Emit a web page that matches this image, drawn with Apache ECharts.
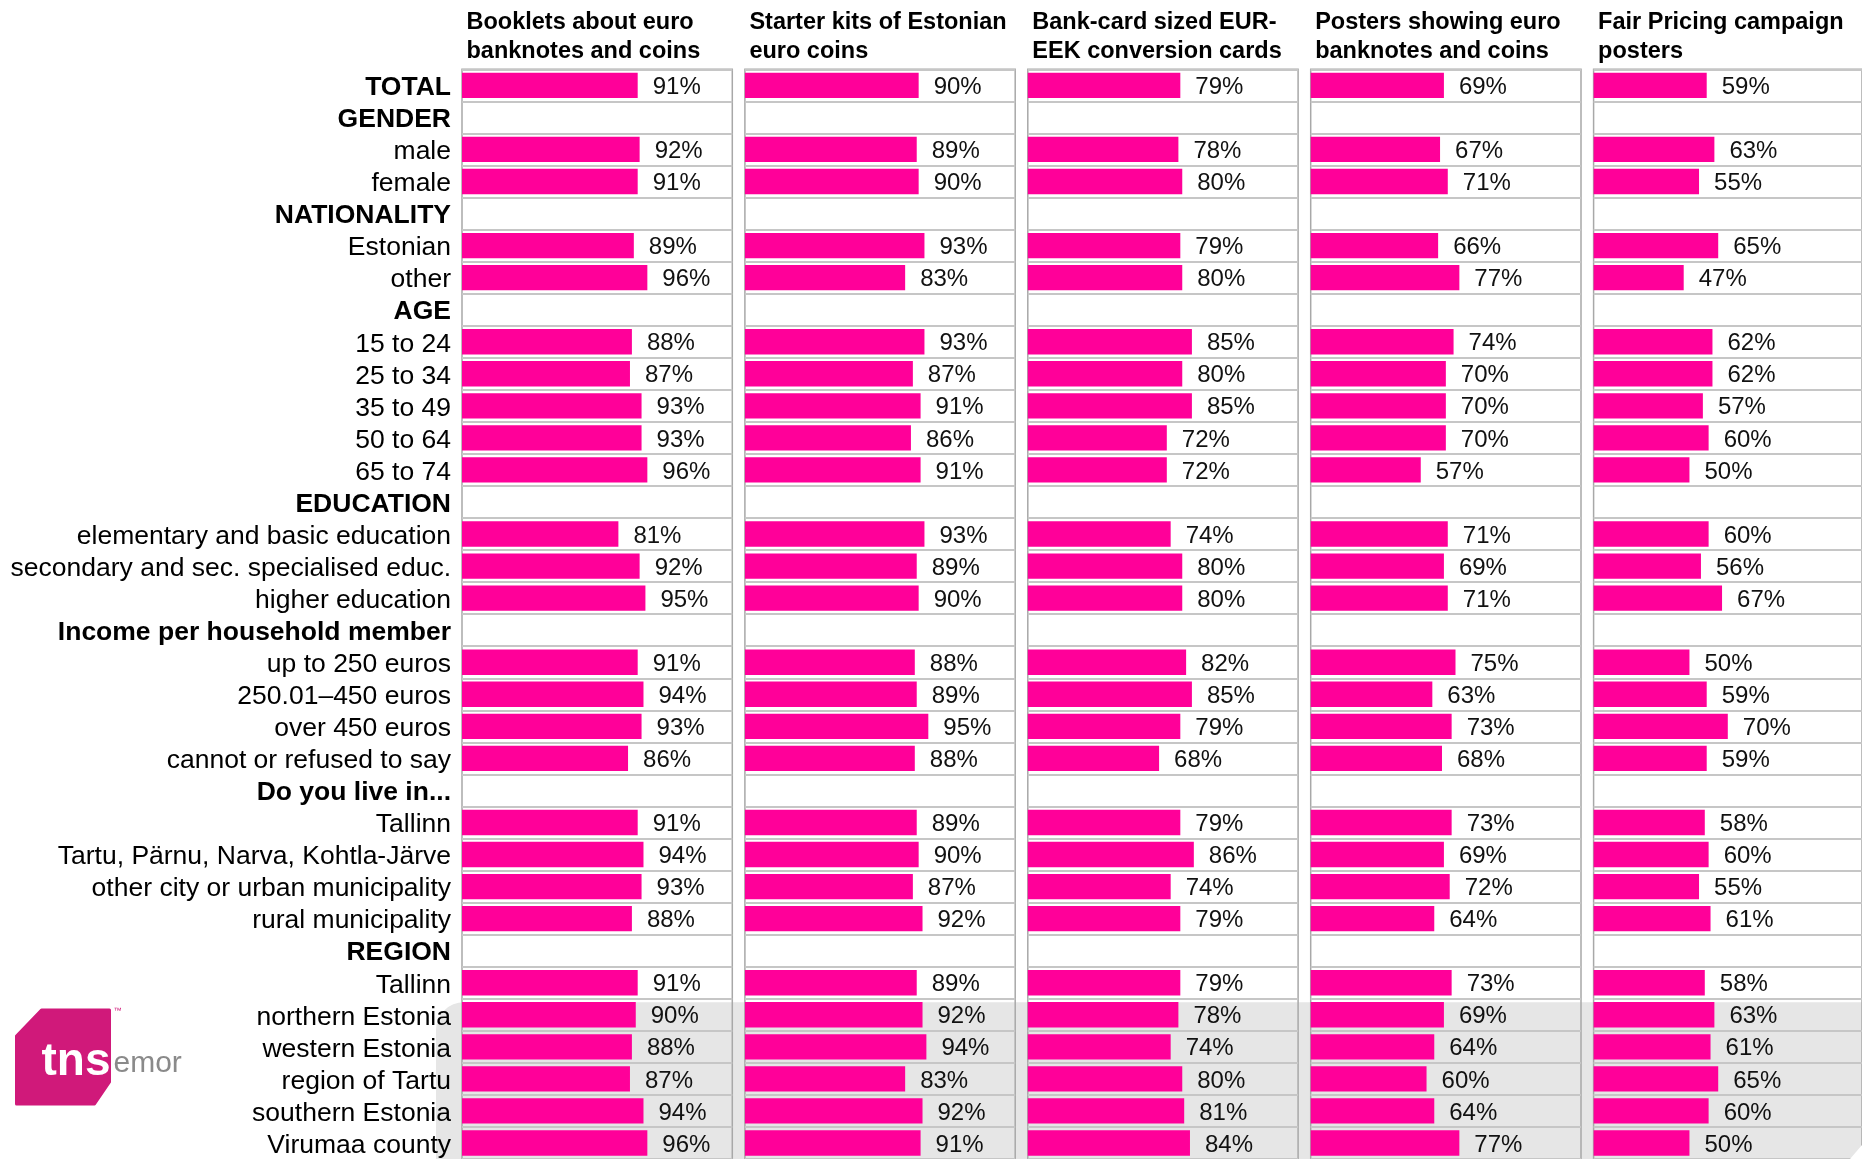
<!DOCTYPE html>
<html>
<head>
<meta charset="utf-8">
<script src="https://cdn.jsdelivr.net/npm/echarts@6/dist/echarts.min.js"></script>
<style>
  html, body { margin: 0; padding: 0; background: #fff; }
  #chart { width: 1862px; height: 1159px; }
</style>
</head>
<body>
<div id="chart"></div>
<script>
// row labels (top to bottom)
const rowLabels = [
    'TOTAL', 'GENDER', 'male', 'female', 'NATIONALITY', 'Estonian', 'other',
    'AGE', '15 to 24', '25 to 34', '35 to 49', '50 to 64', '65 to 74',
    'EDUCATION', 'elementary and basic education', 'secondary and sec. specialised educ.', 'higher education',
    'Income per household member', 'up to 250 euros', '250.01–450 euros', 'over 450 euros', 'cannot or refused to say',
    'Do you live in...', 'Tallinn', 'Tartu, Pärnu, Narva, Kohtla-Järve', 'other city or urban municipality', 'rural municipality',
    'REGION', 'Tallinn', 'northern Estonia', 'western Estonia', 'region of Tartu', 'southern Estonia', 'Virumaa county'
];
const headerRows = ['TOTAL', 'GENDER', 'NATIONALITY', 'AGE', 'EDUCATION', 'Income per household member', 'Do you live in...', 'REGION'];

const panelTitles = [
    'Booklets about euro\nbanknotes and coins',
    'Starter kits of Estonian\neuro coins',
    'Bank-card sized EUR-\nEEK conversion cards',
    'Posters showing euro\nbanknotes and coins',
    'Fair Pricing campaign\nposters'
];

// '-' = heading row, no bar
const booklets    = [91,'-',92,91,'-',89,96,'-',88,87,93,93,96,'-',81,92,95,'-',91,94,93,86,'-',91,94,93,88,'-',91,90,88,87,94,96];
const starterKits = [90,'-',89,90,'-',93,83,'-',93,87,91,86,91,'-',93,89,90,'-',88,89,95,88,'-',89,90,87,92,'-',89,92,94,83,92,91];
const bankCards   = [79,'-',78,80,'-',79,80,'-',85,80,85,72,72,'-',74,80,80,'-',82,85,79,68,'-',79,86,74,79,'-',79,78,74,80,81,84];
const posters     = [69,'-',67,71,'-',66,77,'-',74,70,70,70,57,'-',71,69,71,'-',75,63,73,68,'-',73,69,72,64,'-',73,69,64,60,64,77];
const fairPricing = [59,'-',63,55,'-',65,47,'-',62,62,57,60,50,'-',60,56,67,'-',50,59,70,59,'-',58,60,55,61,'-',58,63,61,65,60,50];

const panelData = [booklets, starterKits, bankCards, posters, fairPricing];
const shadedFrom = 29; // northern Estonia .. Virumaa county

const FONT = "'Liberation Sans', Arial, sans-serif";
const gridTop = 69.3;
const rowH = 32.17;
const gridLeft0 = 462;
const gridStep = 282.9;
const gridW = 270.3;

let chart = echarts.init(document.getElementById('chart'));

let grids = [], xAxes = [], yAxes = [], series = [], titles = [], graphics = [];

panelData.forEach(function(vals, i){
    let left = gridLeft0 + i * gridStep;
    grids.push({
        left: left, top: gridTop, width: gridW, height: rowH * rowLabels.length,
        show: true, borderColor: '#a8a8a8', borderWidth: 1.5, backgroundColor: 'transparent'
    });
    xAxes.push({
        type: 'value', gridIndex: i, min: 0, max: 140, show: false
    });
    yAxes.push({
        type: 'category', gridIndex: i, inverse: true, data: rowLabels,
        axisLine: { show: false },
        axisTick: { show: false },
        splitLine: { show: true, lineStyle: { color: '#c6c6c6', width: 2 } },
        axisLabel: {
            show: i === 0,
            interval: 0,
            margin: 11,
            padding: [5, 0, 0, 0],
            fontFamily: FONT,
            fontSize: 26.5,
            color: '#000',
            formatter: function(v){
                return headerRows.indexOf(v) >= 0 ? '{h|' + v + '}' : v;
            },
            rich: {
                h: { fontFamily: FONT, fontSize: 26.5, fontWeight: 'bold', color: '#000' }
            }
        }
    });
    series.push({
        type: 'bar', xAxisIndex: i, yAxisIndex: i,
        data: vals,
        barCategoryGap: '21%',
        itemStyle: { color: '#ff0099' },
        label: {
            show: true, position: 'right', distance: 15, offset: [0, 2],
            fontFamily: FONT, fontSize: 24, color: '#111',
            formatter: function(p){ return p.value + '%'; }
        },
        animation: false
    });
    titles.push({
        text: panelTitles[i],
        left: left - 0.5, top: 3,
        textStyle: { fontFamily: FONT, fontSize: 23.5, fontWeight: 'bold', color: '#000', lineHeight: 29 }
    });
});

// grey band behind the region rows
let shadeTop = gridTop + shadedFrom * rowH;
graphics.push({
    type: 'rect', z: -1, silent: true,
    shape: { x: 436, y: shadeTop, width: 1862 - 436, height: 1159 - shadeTop, r: [28, 0, 0, 0] },
    style: { fill: '#e6e6e6' }
});

// cut corner bottom right
graphics.push({
    type: 'polygon', z: 5, silent: true,
    shape: { points: [[1850, 1159], [1862, 1145], [1862, 1159]] },
    style: { fill: '#fff' }
});

// tns emor logo
graphics.push({
    type: 'group', left: 15, top: 1007, silent: true,
    children: [
        {
            type: 'polygon',
            shape: { points: [[0, 26], [25, 0], [93, 0], [93, 72], [78, 94], [0, 94]] },
            style: { fill: '#d0197a', lineJoin: 'round', stroke: '#d0197a', lineWidth: 3 }
        },
        {
            type: 'text', x: 25, y: 75,
            style: { text: 'tns', fill: '#fff', font: "bold 46px " + FONT, textVerticalAlign: 'bottom' }
        },
        {
            type: 'text', x: 97, y: 69,
            style: { text: 'emor', fill: '#8a8a8a', font: "30px " + FONT, textVerticalAlign: 'bottom' }
        },
        {
            type: 'text', x: 97, y: -3,
            style: { text: '™', fill: '#d0197a', font: "8px " + FONT }
        }
    ]
});

chart.setOption({
    animation: false,
    title: titles,
    grid: grids,
    xAxis: xAxes,
    yAxis: yAxes,
    series: series,
    graphic: graphics
});
</script>
</body>
</html>
